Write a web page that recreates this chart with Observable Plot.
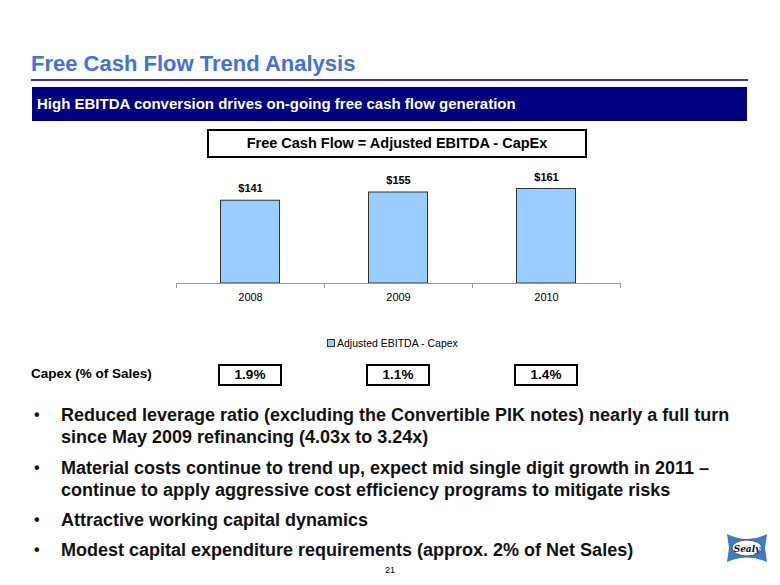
<!DOCTYPE html>
<html><head><meta charset="utf-8">
<script src="https://cdn.jsdelivr.net/npm/d3@7"></script>
<script src="https://cdn.jsdelivr.net/npm/@observablehq/plot@0.6"></script>
<style>
body{margin:0;background:#fff;font-family:Arial,"Liberation Sans",sans-serif;}
#page{position:relative;width:780px;height:585px;overflow:hidden;background:#fff;}
.abs{position:absolute;white-space:nowrap;}
#title{left:31px;top:51px;font-size:22px;font-weight:bold;color:#4470E0;}
#rule{left:31px;top:79px;width:717px;height:2px;background:#3A3A9E;}
#banner{left:32px;top:87px;width:715px;height:34px;background:#000080;color:#fff;font-weight:bold;font-size:15px;line-height:34px;padding-left:5px;box-sizing:border-box;}
#formula{left:207px;top:129px;width:380px;height:29px;border:2px solid #000;box-sizing:border-box;font-weight:bold;font-size:14.5px;text-align:center;line-height:25px;}
#chart{left:160px;top:160px;}
#legend{left:327px;top:337px;font-size:10.5px;color:#000;display:flex;align-items:center;}
#legend span.sw{display:inline-block;width:6px;height:6px;background:#99CCFF;border:1px solid #333;margin-right:2px;}
#capexLabel{left:31px;top:366px;font-size:13.5px;font-weight:bold;}
.cbox{position:absolute;top:364px;width:64px;height:22px;border:2px solid #000;box-sizing:border-box;font-size:13.5px;font-weight:bold;text-align:center;line-height:18px;}
.bul{position:absolute;left:34px;font-size:16px;font-weight:bold;color:#111;}
.btx{position:absolute;left:61px;font-size:18px;font-weight:bold;color:#111;line-height:22px;white-space:nowrap;}
#pg{left:385px;top:565px;font-size:9px;color:#000;}
#logo{left:726px;top:532px;}
</style></head><body><div id="page">
<div id="title" class="abs">Free Cash Flow Trend Analysis</div>
<div id="rule" class="abs"></div>
<div id="banner" class="abs">High EBITDA conversion drives on-going free cash flow generation</div>
<div id="formula" class="abs">Free Cash Flow = Adjusted EBITDA - CapEx</div>
<div id="chart" class="abs"></div>
<div id="legend" class="abs"></div>
<div id="capexLabel" class="abs">Capex (% of Sales)</div>
<div id="pg" class="abs">21</div>
<svg id="logo" class="abs" width="42" height="32" viewBox="0 0 42 32">
  <path d="M1,2 Q21,12 41,2 L39,16 L41,30 Q21,21 1,30 L3,16 Z" fill="#3C7CC4"/>
  <ellipse cx="21" cy="16" rx="15" ry="8" fill="#fff" stroke="#1a3a6a" stroke-width="0.8"/>
  <text x="21" y="19.5" text-anchor="middle" font-family="'DejaVu Serif', serif" font-style="italic" font-weight="bold" font-size="9" fill="#111">Sealy</text>
</svg>
</div>
<script>
const years = ["2008", "2009", "2010"];
const fcf = [141, 155, 161];
const capexPct = ["1.9%", "1.1%", "1.4%"];
const seriesName = "Adjusted EBITDA - Capex";
const bullets = [
  ["Reduced leverage ratio (excluding the Convertible PIK notes) nearly a full turn", "since May 2009 refinancing (4.03x to 3.24x)"],
  ["Material costs continue to trend up, expect mid single digit growth in 2011 \u2013", "continue to apply aggressive cost efficiency programs to mitigate risks"],
  ["Attractive working capital dynamics"],
  ["Modest capital expenditure requirements (approx. 2% of Net Sales)"]
];

const data = years.map((y, i) => ({year: y, value: fcf[i]}));
const W = 480, H = 150, mL = 16, mR = 20, mT = 5, mB = 27;
const step = (W - mL - mR) / years.length;
const barW = 59;
const ins = (step - barW) / 2;
const tickLen = -8.5;

const chart = Plot.plot({
  width: W, height: H, marginLeft: mL, marginRight: mR, marginTop: mT, marginBottom: mB,
  style: {fontFamily: "Arial, 'Liberation Sans', sans-serif", fontSize: "11px", color: "#000", background: "transparent", overflow: "visible"},
  x: {type: "band", domain: years, padding: 0, label: null},
  y: {domain: [0, 201], axis: null},
  marks: [
    Plot.barY(data, {x: "year", y: "value", fill: "#99CCFF", stroke: "#333", strokeWidth: 1, insetLeft: ins, insetRight: ins}),
    Plot.ruleY([0], {stroke: "#999"}),
    Plot.ruleX(years, {x: d => d, dx: -step / 2, y1: 0, y2: tickLen, stroke: "#999"}),
    Plot.ruleX([years[years.length - 1]], {x: d => d, dx: step / 2, y1: 0, y2: tickLen, stroke: "#999"}),
    Plot.axisX({tickSize: 0, tickPadding: 10, fontSize: 11, label: null}),
    Plot.text(data, {x: "year", y: "value", text: d => "$" + d.value, dy: -12, fontWeight: "bold", fontSize: 11})
  ]
});
document.getElementById("chart").appendChild(chart);

document.getElementById("legend").innerHTML = '<span class="sw"></span>' + seriesName;

const xs = chart.scale("x");
const page = document.getElementById("page");
years.forEach((y, i) => {
  const cx = 160 + xs.apply(y) + xs.bandwidth / 2;
  const b = document.createElement("div");
  b.className = "cbox";
  b.style.left = (cx - 32) + "px";
  b.textContent = capexPct[i];
  page.appendChild(b);
});

const tops = [[404, 426], [457, 479], [509], [539]];
bullets.forEach((lines, i) => {
  const d = document.createElement("div");
  d.className = "bul"; d.style.top = (tops[i][0] + 2) + "px"; d.textContent = "\u2022";
  page.appendChild(d);
  lines.forEach((t, j) => {
    const e = document.createElement("div");
    e.className = "btx"; e.style.top = tops[i][j] + "px"; e.textContent = t;
    page.appendChild(e);
  });
});
</script>
</body></html>
